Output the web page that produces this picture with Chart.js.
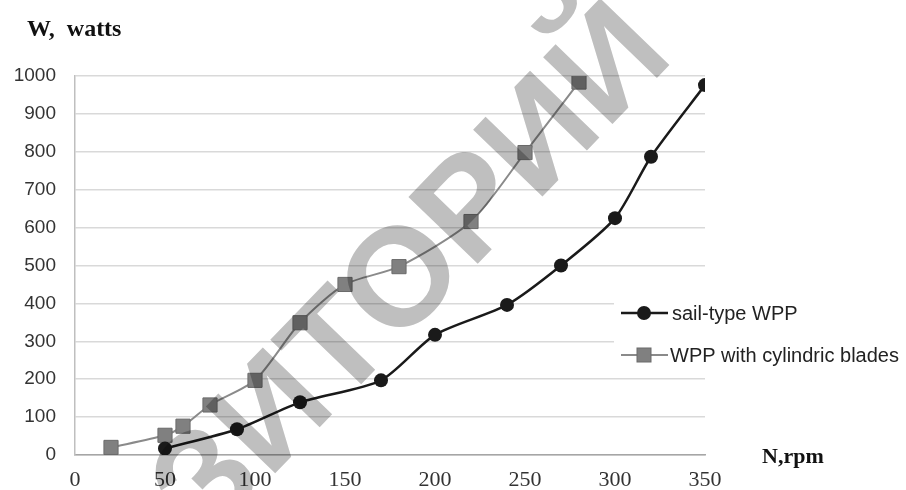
<!DOCTYPE html>
<html>
<head>
<meta charset="utf-8">
<script src="https://cdn.jsdelivr.net/npm/chart.js@4.4.1/dist/chart.umd.min.js"></script>
<style>
  html, body { margin: 0; padding: 0; background: #fff; }
  #wrap { width: 906px; height: 490px; }
</style>
</head>
<body>
<div id="wrap"><canvas id="myChart" width="906" height="490"></canvas></div>
<script>
// values
const sailRpm   = [50, 90, 125, 170, 200, 240, 270, 300, 320, 350];
const sailWatts = [17, 68, 139, 197, 317, 396, 500, 625, 787, 976];
const cylRpm    = [20, 50, 60, 75, 100, 125, 150, 180, 220, 250, 280];
const cylWatts  = [20, 52, 76, 132, 197, 349, 450, 497, 616, 798, 984];
const xTicks = [0, 50, 100, 150, 200, 250, 300, 350];
const yTicks = [0, 100, 200, 300, 400, 500, 600, 700, 800, 900, 1000];
const seriesNames = ['sail-type WPP', 'WPP with cylindric blades'];

function pts(xs, ys) {
    return xs.map((x, i) => ({ x: x, y: ys[i] }));
}

// titles, legend and the watermark on top
const extras = {
    id: 'extras',
    afterDraw(chart) {
        const ctx = chart.ctx;
        ctx.save();
        ctx.fillStyle = '#111';
        ctx.textBaseline = 'alphabetic';
        ctx.textAlign = 'left';
        ctx.font = 'bold 24px "Liberation Serif"';
        ctx.fillText('W,  watts', 27, 36);
        ctx.font = 'bold 22px "Liberation Serif"';
        ctx.fillText('N,rpm', 762, 463);

        // legend
        ctx.fillStyle = '#fff';
        ctx.fillRect(614, 290, 292, 82);
        ctx.font = '20px "Liberation Sans"';
        ctx.textBaseline = 'middle';

        ctx.strokeStyle = '#1a1a1a';
        ctx.lineWidth = 2.5;
        ctx.beginPath(); ctx.moveTo(621, 313); ctx.lineTo(668, 313); ctx.stroke();
        ctx.fillStyle = '#1a1a1a';
        ctx.beginPath(); ctx.arc(644, 313, 7, 0, Math.PI * 2); ctx.fill();
        ctx.fillStyle = '#222';
        ctx.fillText(seriesNames[0], 672, 314);

        ctx.strokeStyle = '#8a8a8a';
        ctx.lineWidth = 2;
        ctx.beginPath(); ctx.moveTo(621, 355); ctx.lineTo(668, 355); ctx.stroke();
        ctx.fillStyle = '#808080';
        ctx.fillRect(637, 348, 14, 14);
        ctx.strokeStyle = '#6a6a6a';
        ctx.lineWidth = 1;
        ctx.strokeRect(637, 348, 14, 14);
        ctx.fillStyle = '#222';
        ctx.fillText(seriesNames[1], 670, 356);

        // watermark
        ctx.globalCompositeOperation = 'multiply';
        ctx.fillStyle = '#bfbfbf';
        ctx.translate(414, 274);
        ctx.rotate(-46 * Math.PI / 180);
        ctx.font = 'bold 140px "Liberation Sans"';
        ctx.textAlign = 'center';
        ctx.textBaseline = 'middle';
        ctx.fillText('ЗИТОРИЙ', 0, 0);
        ctx.restore();
    }
};

const ctx = document.getElementById('myChart').getContext('2d');
const powerChart = new Chart(ctx, {
    type: 'line',
    data: {
        datasets: [{
            label: seriesNames[0],
            data: pts(sailRpm, sailWatts),
            borderColor: '#1a1a1a',
            borderWidth: 2.5,
            backgroundColor: '#1a1a1a',
            pointStyle: 'circle',
            pointRadius: 7,
            pointBorderWidth: 0,
            tension: 0.25,
            fill: false
        }, {
            label: seriesNames[1],
            data: pts(cylRpm, cylWatts),
            borderColor: '#8a8a8a',
            borderWidth: 2,
            backgroundColor: '#808080',
            pointBorderColor: '#6a6a6a',
            pointStyle: 'rect',
            pointRadius: 10,
            pointBorderWidth: 1,
            tension: 0.25,
            fill: false
        }]
    },
    options: {
        responsive: false,
        animation: false,
        events: [],
        layout: { padding: { left: 0, top: 76, right: 201, bottom: 0 } },
        plugins: {
            legend: { display: false },
            tooltip: { enabled: false }
        },
        scales: {
            x: {
                type: 'linear',
                min: 0,
                max: 350,
                afterBuildTicks: (s) => { s.ticks = xTicks.map(v => ({ value: v })); },
                afterFit: (s) => { s.height = 35; },
                grid: { display: false },
                border: { display: true, color: '#a6a6a6', width: 1.5 },
                ticks: {
                    padding: 4,
                    color: '#333',
                    callback: (v) => String(v),
                    font: { family: '"Liberation Serif"', size: 22 }
                }
            },
            y: {
                min: 0,
                max: 1000,
                afterBuildTicks: (s) => { s.ticks = yTicks.map(v => ({ value: v })); },
                afterFit: (s) => { s.width = 75; },
                grid: { color: '#d9d9d9', lineWidth: 1.5, drawTicks: false },
                border: { display: true, color: '#bfbfbf', width: 1.5 },
                ticks: {
                    padding: 19,
                    color: '#333',
                    callback: (v) => String(v),
                    font: { family: '"Liberation Sans"', size: 19 }
                }
            }
        }
    },
    plugins: [extras]
});
</script>
</body>
</html>
